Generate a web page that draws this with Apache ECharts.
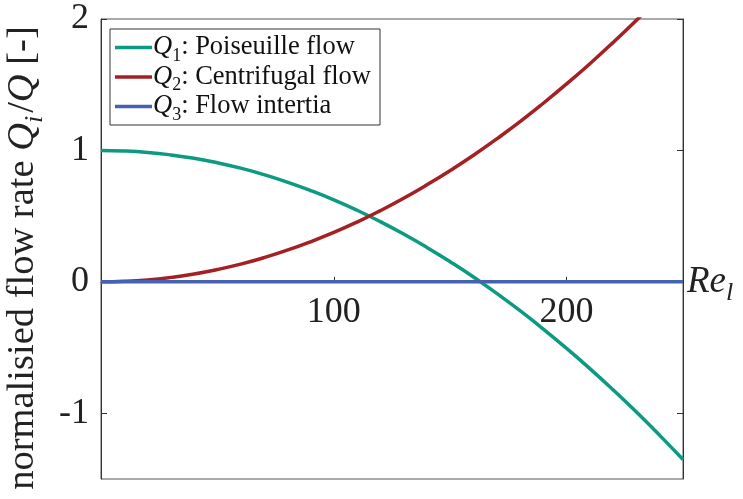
<!DOCTYPE html>
<html><head><meta charset="utf-8">
<script src="https://cdn.jsdelivr.net/npm/echarts@6/dist/echarts.min.js"></script>
<style>html,body{margin:0;padding:0;background:#fff}#c{width:743px;height:499px}</style>
</head><body><div id="c"></div>
<script>
const reValues = [0,10,20,30,40,50,60,70,80,90,100,110,120,130,140,150,160,170,180,190,200,210,220,230,240,250];
const q1Values = [1,0.996,0.985,0.966,0.940,0.906,0.865,0.816,0.759,0.695,0.624,0.545,0.458,0.364,0.262,0.153,0.037,-0.088,-0.219,-0.359,-0.506,-0.660,-0.822,-0.991,-1.168,-1.352];
const q2Values = [0,0.004,0.015,0.034,0.060,0.094,0.135,0.184,0.241,0.305,0.376,0.455,0.542,0.636,0.738,0.847,0.963,1.088,1.219,1.359,1.506,1.660,1.822,1.991,2.168,2.352];
const q3Values = [0,0,0,0,0,0,0,0,0,0,0,0,0,0,0,0,0,0,0,0,0,0,0,0,0,0];
const xTicks = [100,200];
const yTicks = [-1,0,1,2];
const seriesNames = ['Q1','Q2','Q3'];
const legendTexts = ['{q|Q}{s|1}: Poiseuille flow','{q|Q}{s|2}: Centrifugal flow','{q|Q}{s|3}: Flow intertia'];
const colors = ['#0c9a82','#a42022','#4462b0'];

const FONT = 'Liberation Serif';
const GRID = {left:101,right:60,top:19,bottom:20};
const Y_MIN = -1.5, Y_MAX = 2;
const chart = echarts.init(document.getElementById('c'));
const mk = (ys) => reValues.map((x,i)=>[x, ys[i]]);
const allY = [q1Values,q2Values,q3Values];
const plotH = 499 - GRID.top - GRID.bottom;
const zeroOffset = -(plotH * (0 - Y_MIN) / (Y_MAX - Y_MIN));
chart.setOption({
  animation:false,
  textStyle:{fontFamily:FONT},
  grid:Object.assign({show:true,borderColor:'#555',borderWidth:1,backgroundColor:'transparent',outerBoundsMode:'none',containLabel:false},GRID),
  legend:{
    orient:'vertical', left:110, top:29,
    padding:[5,9,1,5],
    borderColor:'#333', borderWidth:1, backgroundColor:'#fff',
    itemWidth:37, itemHeight:3.5, itemGap:-1.5,
    icon:'rect',
    data:seriesNames,
    formatter:(n)=>legendTexts[seriesNames.indexOf(n)],
    textStyle:{fontFamily:FONT,fontSize:26.5,color:'#111',lineHeight:27,padding:[0,0,0,-4],
      rich:{q:{fontFamily:FONT,fontSize:26.5,fontStyle:'italic',color:'#111'},s:{fontFamily:FONT,fontSize:18,color:'#111',verticalAlign:'bottom',padding:[0,0,-4,0]}}}
  },
  xAxis:{
    type:'value', min:0, max:250, position:'bottom', offset:zeroOffset,
    axisLine:{onZero:false,lineStyle:{color:'#333',width:1}},
    axisTick:{show:true,inside:true,length:5,customValues:xTicks,lineStyle:{color:'#333'}},
    axisLabel:{customValues:xTicks,fontFamily:FONT,fontSize:36,color:'#222',margin:13},
    splitLine:{show:false},
    name:'{r|Re}{s|l}', nameLocation:'end', nameGap:4,
    nameTextStyle:{rich:{r:{fontFamily:FONT,fontSize:37,fontStyle:'italic',color:'#222'},s:{fontFamily:FONT,fontSize:26,fontStyle:'italic',color:'#222',verticalAlign:'bottom',padding:[0,0,-6,0]}}}
  },
  yAxis:[{
    type:'value', min:Y_MIN, max:Y_MAX,
    axisLine:{show:true,lineStyle:{color:'#333',width:1}},
    axisTick:{show:true,inside:true,length:6,customValues:yTicks,lineStyle:{color:'#333'}},
    axisLabel:{customValues:yTicks,fontFamily:FONT,fontSize:36,color:'#222',margin:12},
    splitLine:{show:false},
    name:'normalisied flow rate {q|Q}{s|i}{n|/}{q|Q} [-]', nameLocation:'middle', nameGap:55, nameRotate:90,
    nameTextStyle:{fontFamily:FONT,fontSize:38.5,color:'#222',padding:[0,18,0,0],
      rich:{q:{fontFamily:FONT,fontSize:38.5,fontStyle:'italic',color:'#222'},s:{fontFamily:FONT,fontSize:26,fontStyle:'italic',color:'#222',verticalAlign:'bottom',padding:[0,3,-6,0]},n:{fontFamily:FONT,fontSize:38.5,color:'#222'}}}
  },{
    type:'value', min:Y_MIN, max:Y_MAX, position:'right',
    axisLine:{show:true,lineStyle:{color:'#333',width:1}},
    axisTick:{show:true,inside:true,length:6,customValues:yTicks,lineStyle:{color:'#333'}},
    axisLabel:{show:false}, splitLine:{show:false}
  }],
  series: seriesNames.map((n,i)=>({
    name:n, type:'line', smooth:true, showSymbol:false, symbol:'none',
    data:mk(allY[i]), color:colors[i],
    lineStyle:{width:3.5,color:colors[i]}, clip:true
  }))
});
</script></body></html>
